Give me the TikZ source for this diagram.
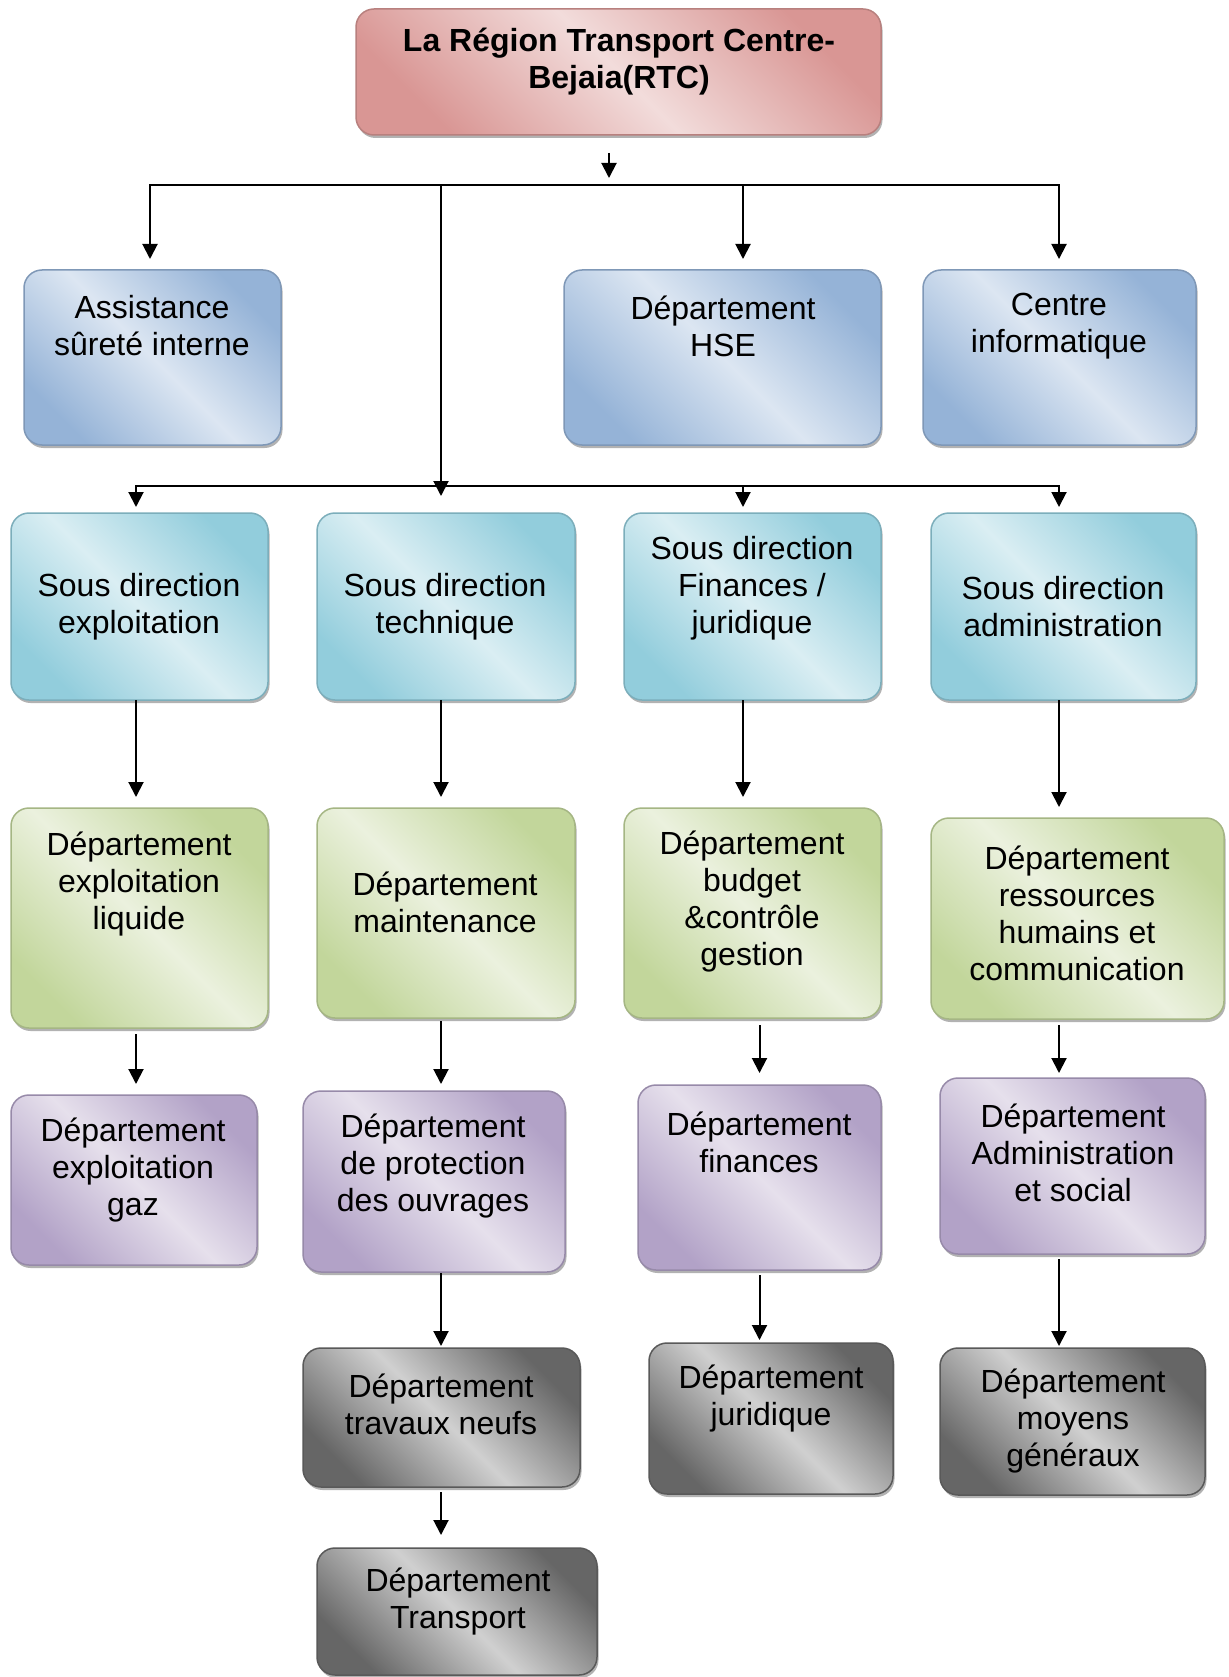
\documentclass[tikz,border=0pt]{standalone}
\usepackage{fontspec}
\setmainfont{Liberation Sans}
\usetikzlibrary{arrows.meta,shadows,calc}
\definecolor{rD}{HTML}{D99694}\definecolor{rL}{HTML}{F2DCDB}
\definecolor{bD}{HTML}{95B3D7}\definecolor{bL}{HTML}{DCE6F2}
\definecolor{cD}{HTML}{92CDDC}\definecolor{cL}{HTML}{DAEEF3}
\definecolor{gD}{HTML}{C2D69B}\definecolor{gL}{HTML}{EBF1DE}
\definecolor{pD}{HTML}{B2A2C7}\definecolor{pL}{HTML}{E6E0EC}
\definecolor{kD}{HTML}{666666}\definecolor{kL}{HTML}{D0D0D0}
\newcommand\orgbox[6]{\node[box,#2,minimum width={(#5-#3)*1pt},minimum height={(#6-#4)*1pt}] (#1) at (#3,#4) {};}
\begin{document}
\begin{tikzpicture}[x=1pt,y=-1pt,
  box/.style={rounded corners=18pt, line width=1.5pt, inner sep=0pt, outer sep=0pt, anchor=north west,
    drop shadow={shadow xshift=1.5pt, shadow yshift=-3pt, fill=black, opacity=0.3}},
  fam/.style 2 args={draw=#1!85!black, top color=#1, bottom color=#1, middle color=#2, shading angle=-45},
  fRed/.style={fam={rD}{rL}},
  fBlue/.style={fam={bD}{bL}},
  fCyan/.style={fam={cD}{cL}},
  fGreen/.style={fam={gD}{gL}},
  fPurp/.style={fam={pD}{pL}},
  fGrey/.style={fam={kD}{kL}, draw=black!65},
  txt/.style={align=center, font=\fontsize{32pt}{37pt}\selectfont, inner sep=0pt},
  arr/.style={draw, line width=2pt, -{Triangle[width=15pt,length=15pt]}},
]
\useasboundingbox (0,0) rectangle (1228,1677);
\fill[white] (0,0) rectangle (1228,1677);

% boxes
\orgbox{title}{fRed}{356}{9}{881}{135}
\orgbox{assist}{fBlue}{24}{270}{281}{445}
\orgbox{hse}{fBlue}{564}{270}{881}{445}
\orgbox{info}{fBlue}{923}{270}{1196}{445}
\orgbox{sde}{fCyan}{11}{513}{268}{700}
\orgbox{tech}{fCyan}{317}{513}{575}{700}
\orgbox{sdf}{fCyan}{624}{513}{881}{700}
\orgbox{sda}{fCyan}{931}{513}{1196}{700}
\orgbox{ele}{fGreen}{11}{808}{268}{1028}
\orgbox{maint}{fGreen}{317}{808}{575}{1018}
\orgbox{budg}{fGreen}{624}{808}{881}{1018}
\orgbox{rh}{fGreen}{931}{818}{1224}{1019}
\orgbox{gaz}{fPurp}{11}{1095}{257}{1265}
\orgbox{prot}{fPurp}{303}{1091}{565}{1272}
\orgbox{fin}{fPurp}{638}{1085}{881}{1270}
\orgbox{adso}{fPurp}{940}{1078}{1205}{1254}
\orgbox{trav}{fGrey}{303}{1348}{580}{1487}
\orgbox{jur}{fGrey}{649}{1343}{893}{1494}
\orgbox{moy}{fGrey}{940}{1348}{1205}{1495}
\orgbox{trans}{fGrey}{317}{1548}{597}{1675}

% texts
\node[txt,font=\fontsize{32pt}{37pt}\selectfont\bfseries] (ttitle) at (619,62) {La Région Transport Centre-\\Bejaia(RTC)};
\node[txt] (tassist) at (152,326) {Assistance\\sûreté interne};
\node[txt] (thse) at (723,326) {Département\\HSE};
\node[txt] (tinfo) at (1059,326) {Centre\\informatique};
\node[txt] (tsde) at (139,607) {Sous direction\\exploitation};
\node[txt] (ttech) at (445,607) {Sous direction\\technique};
\node[txt] (tsdf) at (752,588) {Sous direction\\Finances /\\juridique};
\node[txt] (tsda) at (1063,607) {Sous direction\\administration};
\node[txt] (tele) at (139,884) {Département\\exploitation\\liquide};
\node[txt] (tmaint) at (445,902) {Département\\maintenance};
\node[txt] (tbudg) at (752,902) {Département\\budget\\\&contrôle\\gestion};
\node[txt] (trh) at (1077,913) {Département\\ressources\\humains et\\communication};
\node[txt] (tgaz) at (133,1170) {Département\\exploitation\\gaz};
\node[txt] (tprot) at (433,1166) {Département\\de protection\\des ouvrages};
\node[txt] (tfin) at (759,1142) {Département\\finances};
\node[txt] (tadso) at (1073,1153) {Département\\Administration\\et social};
\node[txt] (ttrav) at (441,1404) {Département\\travaux neufs};
\node[txt] (tjur) at (771,1399) {Département\\juridique};
\node[txt] (tmoy) at (1073,1421) {Département\\moyens\\généraux};
\node[txt] (ttrans) at (458,1602) {Département\\Transport};

% column and bus coordinates
\coordinate (bus1) at (609,185);
\coordinate (k1) at (150,0);
\coordinate (colA) at (136,0);
\coordinate (colB) at (441,0);
\coordinate (colC) at (743,0);
\coordinate (colD) at (1059,0);
\coordinate (colE) at (759.5,0);
\coordinate (bus2) at (441,486);

% connectors
\draw[arr, shorten <=18pt, shorten >=7pt] (title.south -| bus1) -- (bus1);
\draw[arr, shorten >=11pt] (bus1) -| (k1 |- assist.north);
\draw[arr, shorten >=11pt] (bus1) -| (colD |- info.north);
\draw[arr, shorten >=11pt] (colC |- bus1) -- (colC |- hse.north);
\draw[arr, shorten >=17pt] (colB |- bus1) -- (colB |- tech.north);
\draw[arr, shorten >=6pt] (bus2) -| (colA |- sde.north);
\draw[arr, shorten >=6pt] (bus2) -| (colD |- sda.north);
\draw[arr, shorten >=6pt] (colC |- bus2) -- (colC |- sdf.north);

\draw[arr, shorten >=11pt] (colA |- sde.south) -- (colA |- ele.north);
\draw[arr, shorten >=11pt] (colB |- tech.south) -- (colB |- maint.north);
\draw[arr, shorten >=11pt] (colC |- sdf.south) -- (colC |- budg.north);
\draw[arr, shorten >=11pt] (colD |- sda.south) -- (colD |- rh.north);

\draw[arr, shorten <=6pt, shorten >=11pt] (colA |- ele.south) -- (colA |- gaz.north);
\draw[arr, shorten <=3pt, shorten >=7pt] (colB |- maint.south) -- (colB |- prot.north);
\draw[arr, shorten <=7pt, shorten >=12pt] (colE |- budg.south) -- (colE |- fin.north);
\draw[arr, shorten <=6pt, shorten >=5pt] (colD |- rh.south) -- (colD |- adso.north);

\draw[arr, shorten <=1pt, shorten >=2pt] (colB |- prot.south) -- (colB |- trav.north);
\draw[arr, shorten <=5pt, shorten >=3pt] (colE |- fin.south) -- (colE |- jur.north);
\draw[arr, shorten <=5pt, shorten >=2pt] (colD |- adso.south) -- (colD |- moy.north);
\draw[arr, shorten <=5pt, shorten >=13pt] (colB |- trav.south) -- (colB |- trans.north);
\end{tikzpicture}
\end{document}
